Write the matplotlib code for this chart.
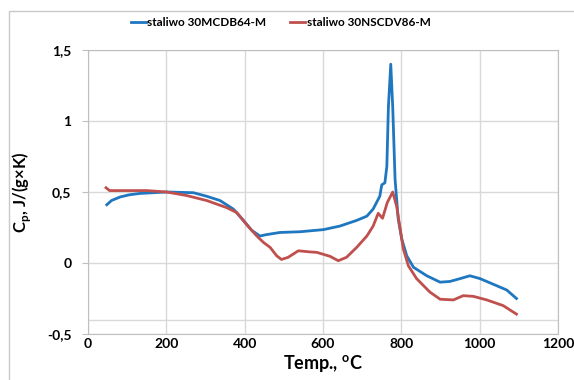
import matplotlib.pyplot as plt
import matplotlib.patches as mpatches
from matplotlib.ticker import FuncFormatter

# staliwo 30MCDB64-M
t_blue = [48, 60, 82, 105, 133, 201, 269, 303, 337, 371, 397, 418, 439, 456, 490, 541,
          601, 643, 686, 712, 728, 745, 750, 758, 763, 767, 773, 778, 784, 792,
          801, 814, 831, 865, 899, 924, 950, 975, 1001, 1035, 1069, 1094]
cp_blue = [0.41, 0.44, 0.465, 0.48, 0.49, 0.50, 0.495, 0.47, 0.44, 0.38, 0.30, 0.23, 0.19, 0.20, 0.215, 0.22,
           0.235, 0.26, 0.30, 0.33, 0.38, 0.47, 0.55, 0.565, 0.68, 1.10, 1.40, 1.10, 0.59, 0.31,
           0.17, 0.05, -0.03, -0.09, -0.135, -0.13, -0.11, -0.09, -0.11, -0.15, -0.19, -0.25]

# staliwo 30NSCDV86-M
t_red = [46, 55, 99, 150, 201, 252, 303, 354, 380, 405, 431, 448, 465, 482, 494, 511, 537,
         567, 584, 618, 639, 660, 686, 712, 728, 741, 752, 764, 778, 788, 797, 805,
         818, 839, 873, 899, 933, 958, 984, 1018, 1060, 1094]
cp_red = [0.53, 0.51, 0.51, 0.51, 0.50, 0.475, 0.44, 0.39, 0.355, 0.27, 0.19, 0.145, 0.11, 0.05, 0.025, 0.04, 0.086,
          0.078, 0.075, 0.047, 0.016, 0.04, 0.11, 0.19, 0.26, 0.35, 0.315, 0.425, 0.50, 0.40, 0.24, 0.10,
          -0.02, -0.11, -0.205, -0.255, -0.26, -0.23, -0.235, -0.26, -0.30, -0.36]

labels = ["staliwo 30MCDB64-M", "staliwo 30NSCDV86-M"]
colors = ['#1F77C0', '#C0504D']

plt.rcParams['font.family'] = ['Lato', 'DejaVu Sans']
plt.rcParams['font.weight'] = 'bold'

fig = plt.figure(figsize=(5.74, 3.8), dpi=100)
ax = fig.add_axes([88/574, 46/380, 470/574, 284/380])

# chart area frame
fig.patches.append(mpatches.Rectangle((9/574, -0.1), 1.2, (380-11)/380 + 0.1,
                                      transform=fig.transFigure, fill=False,
                                      edgecolor='#C8C8C8', lw=1))

ax.plot(t_blue, cp_blue, color=colors[0], lw=2, label=labels[0])
ax.plot(t_red, cp_red, color=colors[1], lw=2, label=labels[1])

ax.set_xlim(0, 1200)
ax.set_ylim(-0.5, 1.5)
ax.set_xticks(range(0, 1201, 200))
ax.set_yticks([-0.5, 0, 0.5, 1, 1.5])
ax.yaxis.set_major_formatter(FuncFormatter(lambda v, p: ('%g' % v).replace('.', ',')))
ax.grid(True, color='#D9D9D9', lw=1)
ax.axhline(-0.4, color='#D9D9D9', lw=1, zorder=0)
ax.set_axisbelow(True)
for s in ax.spines.values():
    s.set_color('#BFBFBF')
ax.tick_params(colors='#BFBFBF', labelcolor='black', labelsize=10, length=4)
ax.tick_params(axis='x', length=0, pad=3)
ax.tick_params(axis='y', pad=8)
for lab in ax.get_xticklabels() + ax.get_yticklabels():
    lab.set_fontweight('bold')

ax.set_xlabel('Temp., $^{\\mathregular{o}}$C', fontsize=13, fontweight='bold', labelpad=2)
ax.set_ylabel('C$_{\\mathregular{p}}$, J/(g×K)', fontsize=12, fontweight='bold', labelpad=10)

ax.legend(loc='lower center', bbox_to_anchor=(0.41, 1.04), ncol=2, frameon=False,
          handlelength=1.3, handletextpad=0.1, columnspacing=2.0,
          prop={'weight': 'bold', 'size': 8.5})

fig.savefig('out.png', dpi=100)
